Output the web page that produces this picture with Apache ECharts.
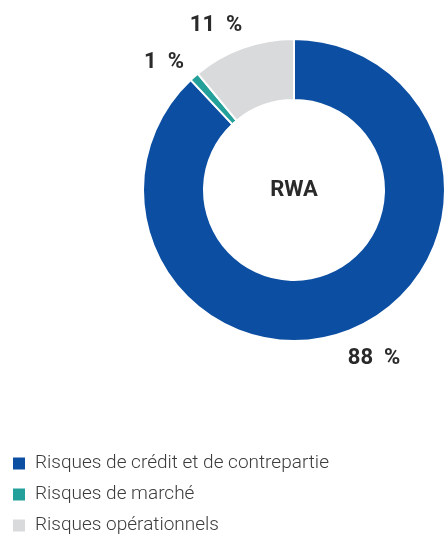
<!DOCTYPE html>
<html>
<head>
<meta charset="utf-8">
<script src="https://cdn.jsdelivr.net/npm/echarts@6/dist/echarts.min.js"></script>
<style>
  html, body { margin: 0; padding: 0; background: #fff; }
  #chart { width: 445px; height: 536px; }
</style>
</head>
<body>
<div id="chart"></div>
<script>
const categories = [
  "Risques de crédit et de contrepartie",
  "Risques de marché",
  "Risques opérationnels",
];
const shares = [88, 1, 11];
const colors = ["#0b4ea2", "#22a099", "#d9dadc"];
const centerTitle = "RWA";

let chart = echarts.init(document.getElementById("chart"));

let data = categories.map((name, i) => ({
  name: name,
  value: shares[i],
  itemStyle: { color: colors[i] },
}));

// where each percentage label sits (text centre), relative to the page
let labelSpots = [
  [374, 358],
  [164, 62],
  [216, 25],
];

let option = {
  animation: false,
  legend: {
    orient: "vertical",
    left: 11,
    top: 454,
    height: 90,
    padding: 0,
    itemWidth: 14,
    itemHeight: 14,
    itemGap: 12,
    icon: "rect",
    data: categories,
    textStyle: {
      fontFamily: "Roboto",
      fontSize: 19,
      color: "#3c3c3c",
      fontWeight: 300,
      padding: [0, 0, 0, 4],
    },
  },
  graphic: [
    {
      type: "text",
      x: 294,
      y: 190,
      style: {
        text: centerTitle,
        font: "bold 22px Roboto",
        fill: "#2a2a2a",
        textAlign: "center",
        textVerticalAlign: "middle",
      },
    },
  ],
  series: [
    {
      type: "pie",
      center: [294, 190],
      radius: [90, 151],
      startAngle: 90,
      clockwise: true,
      avoidLabelOverlap: false,
      itemStyle: {
        borderColor: "#fff",
        borderWidth: 2,
      },
      label: {
        show: true,
        position: "outside",
        formatter: "{c}  %",
        fontFamily: "Roboto",
        fontWeight: "bold",
        fontSize: 22,
        color: "#2a2a2a",
      },
      labelLine: { show: false },
      labelLayout: function (params) {
        let p = labelSpots[params.dataIndex];
        return { x: p[0], y: p[1], align: "center", verticalAlign: "middle" };
      },
      data: data,
    },
  ],
};
chart.setOption(option);
</script>
</body>
</html>
